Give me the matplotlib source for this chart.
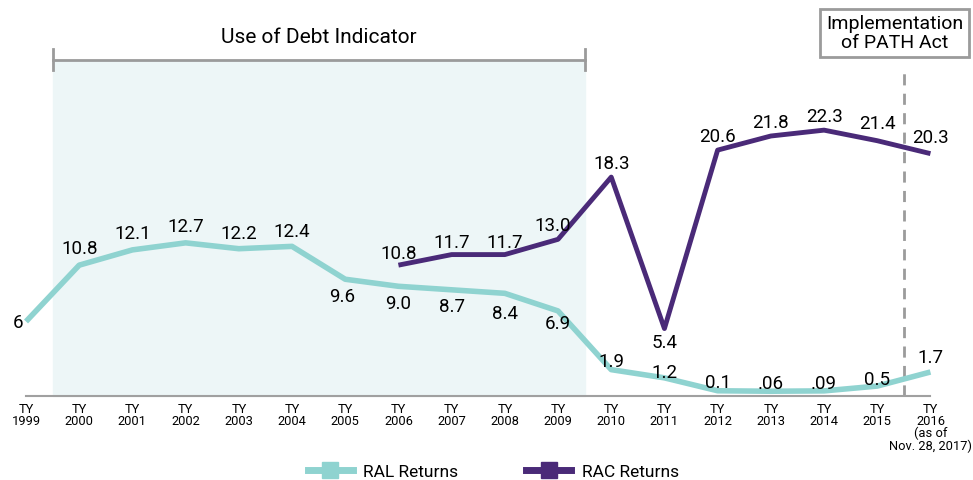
import matplotlib
matplotlib.use('Agg')
import matplotlib.pyplot as plt
from matplotlib.lines import Line2D

plt.rcParams['font.family'] = ['Roboto', 'DejaVu Sans']

years = list(range(1999, 2017))
tick_labels = ['TY\n%d' % y for y in years[:-1]] + ['TY\n2016\n(as of\nNov. 28, 2017)']

ral_years = years
ral = [6, 10.8, 12.1, 12.7, 12.2, 12.4, 9.6, 9.0, 8.7, 8.4, 6.9, 1.9, 1.2, 0.1, 0.06, 0.09, 0.5, 1.7]
ral_text = ['6', '10.8', '12.1', '12.7', '12.2', '12.4', '9.6', '9.0', '8.7', '8.4', '6.9',
            '1.9', '1.2', '0.1', '.06', '.09', '0.5', '1.7']

rac_years = list(range(2006, 2017))
rac = [10.8, 11.7, 11.7, 13.0, 18.3, 5.4, 20.6, 21.8, 22.3, 21.4, 20.3]

ral_color = '#8fd3d0'
rac_color = '#4a2a78'

fig = plt.figure(figsize=(9.73, 4.81), dpi=100)
ax = fig.add_axes([0, 0, 1, 1])
ax.set_xlim(1998.511, 2016.80)
ax.set_ylim(-7.50, 33.47)

# shaded "use of debt indicator" period
ax.fill_between([1999.5, 2009.5], -0.35, 28.3, color='#edf6f7', zorder=0)
ax.plot([1999.5, 2009.5], [28.3, 28.3], color='#9b9b9b', lw=2, zorder=1)
ax.plot([1999.5, 1999.5], [27.4, 29.2], color='#9b9b9b', lw=2, zorder=1)
ax.plot([2009.5, 2009.5], [27.4, 29.2], color='#9b9b9b', lw=2, zorder=1)
ax.text(2004.5, 29.5, 'Use of Debt Indicator', ha='center', va='bottom', fontsize=15)

# PATH act line and box
ax.plot([2015.5, 2015.5], [-0.35, 27.8], color='#9b9b9b', lw=2, ls=(0, (4, 3)), zorder=1)
ax.text(2015.33, 30.6, 'Implementation\nof PATH Act', ha='center', va='center', fontsize=14,
        linespacing=1.05,
        bbox=dict(boxstyle='square,pad=0.3', fc='white', ec='#9b9b9b', lw=2))

ax.plot(ral_years, ral, color=ral_color, lw=4, solid_capstyle='butt', zorder=3)
ax.plot(rac_years, rac, color=rac_color, lw=3.5, solid_capstyle='butt', zorder=4)

# labels: offsets in points (dx, dy)
ral_off = [(-2, 0), (0, 12), (0, 12), (0, 12), (0, 11), (0, 11), (-2, -12), (0, -12), (0, -12),
           (0, -14), (0, -9), (0, 6), (0, 4), (0, 6), (0, 6), (0, 6), (0, 5), (0, 11)]
for x, v, t, (dx, dy) in zip(ral_years, ral, ral_text, ral_off):
    ha = 'right' if t == '6' else 'center'
    ax.annotate(t, (x, v), xytext=(dx, dy), textcoords='offset points',
                ha=ha, va='center', fontsize=13.5, zorder=5)

rac_off = [(0, 9), (0, 9), (0, 9), (-4, 10), (0, 10), (0, -10), (0, 10), (0, 10), (0, 10), (0, 13), (0, 12)]
for x, v, (dx, dy) in zip(rac_years, rac, rac_off):
    ax.annotate('%.1f' % v, (x, v), xytext=(dx, dy), textcoords='offset points',
                ha='center', va='center', fontsize=13.5, zorder=5)

# x axis
ax.plot([1999, 2016], [-0.35, -0.35], color='#a0a0a0', lw=1.5, zorder=2)
for x, lab in zip(years, tick_labels):
    ax.text(x, -0.85, lab, ha='center', va='top', fontsize=9.3, linespacing=0.9)

ax.axis('off')

handles = [Line2D([], [], color=ral_color, lw=5, marker='s', markersize=12),
           Line2D([], [], color=rac_color, lw=5, marker='s', markersize=12)]
fig.legend(handles, ['RAL Returns', 'RAC Returns'], loc='center', bbox_to_anchor=(0.507, 0.017),
           ncol=2, frameon=False, fontsize=12.5, handlelength=2.6, columnspacing=3.9,
           handletextpad=0.6)

fig.savefig('out.png', dpi=100)
